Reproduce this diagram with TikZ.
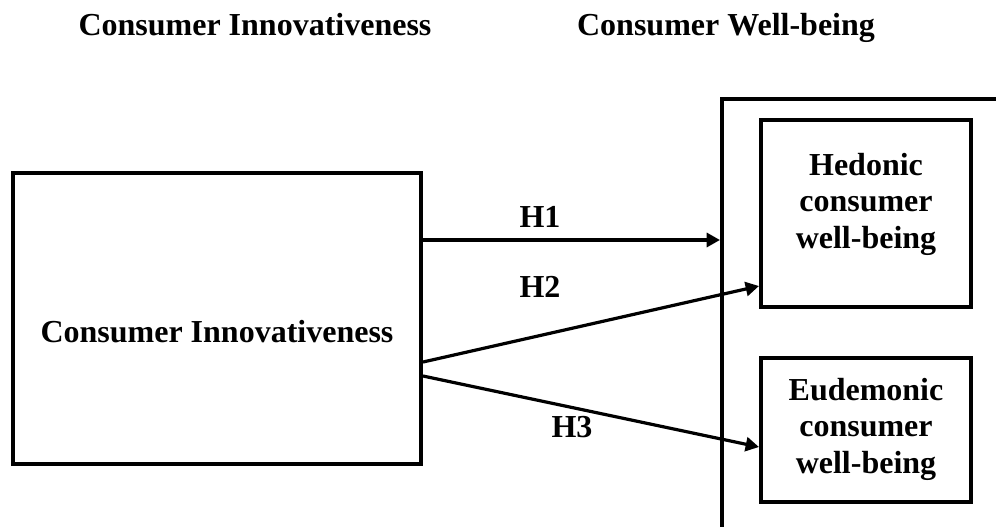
\documentclass[tikz,border=0pt]{standalone}
\usepackage{fontspec}
\setmainfont{Liberation Serif}
\usetikzlibrary{arrows.meta}
\begin{document}
\begin{tikzpicture}[x=0.75pt,y=-0.75pt,
  txt/.style={font=\fontsize{24}{27.4}\selectfont\bfseries, inner sep=0pt, align=center},
  box/.style={draw, line width=3pt, inner sep=0pt},
  arr/.style={line width=2.4pt, -{Triangle[length=10pt,width=10.5pt]}}]
\useasboundingbox (0,0) rectangle (996,526);
\clip (0,0) rectangle (996,526);

% column headings
\node[txt, anchor=base] (t1) at (255,35) {Consumer Innovativeness};
\node[txt, anchor=base] (t2) at (726,35) {Consumer Well-being};

% independent construct
\node[box, minimum width=306pt, minimum height=218.25pt] (ci) at (217,318.5) {};
\node[txt, anchor=base] (cit) at (217,342) {Consumer Innovativeness};

% well-being frame (runs off the page on the right and bottom)
\node[box, anchor=north west, minimum width=320pt, minimum height=420pt] (wb) at (720,97) {};

% well-being dimensions
\node[box, minimum width=157.5pt, minimum height=140.25pt] (hed) at (866,213.5) {};
\node[txt] (hedt) at (866,204) {Hedonic\\consumer\\well-being};
\node[box, minimum width=157.5pt, minimum height=108pt] (eud) at (866,430) {};
\node[txt] (eudt) at (866,429) {Eudemonic\\consumer\\well-being};

% hypothesised paths
\draw[arr] (ci.east |- 0,240) -- (wb.west |- 0,240);
\draw[arr] (ci.east |- 0,362) -- (hed.west |- 0,286);
\draw[arr] (ci.east |- 0,376) -- (eud.west |- 0,447);

\node[txt, anchor=base] (h1) at (540,227) {H1};
\node[txt, anchor=base] (h2) at (540,297) {H2};
\node[txt, anchor=base] (h3) at (572,437) {H3};
\end{tikzpicture}
\end{document}
